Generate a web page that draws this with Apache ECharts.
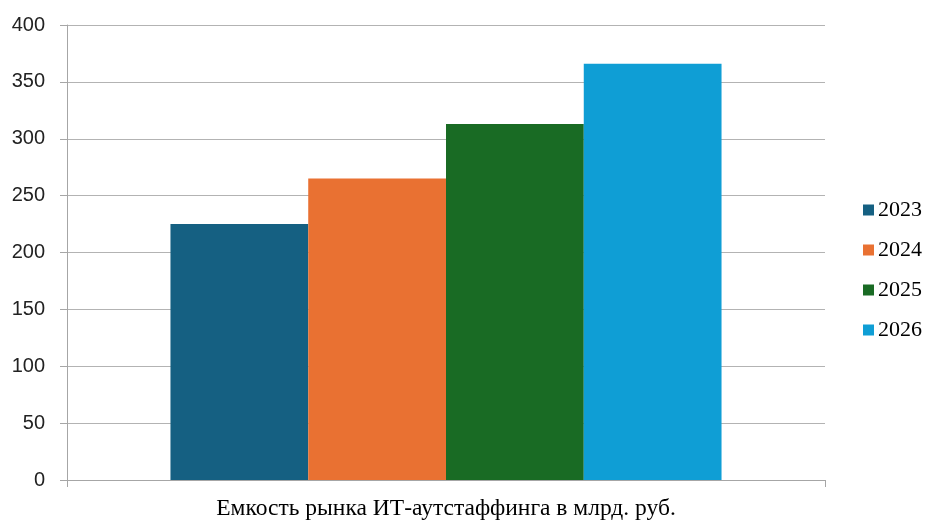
<!DOCTYPE html>
<html>
<head>
<meta charset="utf-8">
<script src="https://cdn.jsdelivr.net/npm/echarts@6/dist/echarts.min.js"></script>
<style>
  html, body { margin: 0; padding: 0; background: #fff; }
  #chart { width: 927px; height: 520px; }
</style>
</head>
<body>
<div id="chart"></div>
<script>
const categories = ["Емкость рынка ИТ-аутстаффинга в млрд. руб."];
const years = ["2023", "2024", "2025", "2026"];
const values = [225, 265, 313, 366];
const colors = ["#156082", "#E97132", "#196B24", "#0F9ED5"];

const myChart = echarts.init(document.getElementById("chart"));
const option = {
  animation: false,
  color: colors,
  grid: { left: 67, right: 102, top: 25, bottom: 40, outerBoundsMode: "none" },
  legend: {
    orient: "vertical",
    left: 858,
    top: 194,
    itemWidth: 11,
    itemHeight: 11,
    itemGap: 18,
    icon: "rect",
    textStyle: { fontFamily: "Liberation Serif", fontSize: 22, color: "#000", padding: [0, 0, 0, -1] },
    data: years,
  },
  xAxis: {
    type: "category",
    data: categories,
    axisLine: { lineStyle: { color: "#a6a6a6", width: 1 } },
    axisTick: { show: true, length: 7, lineStyle: { color: "#a6a6a6" } },
    axisLabel: {
      margin: 17,
      fontFamily: "Liberation Serif",
      fontSize: 23.5,
      color: "#000",
    },
  },
  yAxis: {
    type: "value",
    min: 0,
    max: 400,
    interval: 50,
    axisLine: { show: true, lineStyle: { color: "#a6a6a6", width: 1 } },
    axisTick: { show: true, length: 7, lineStyle: { color: "#a6a6a6" } },
    axisLabel: {
      margin: 22,
      fontFamily: "Liberation Sans",
      fontSize: 20,
      color: "#222",
    },
    splitLine: { lineStyle: { color: "#b3b3b3", width: 1 } },
  },
  series: years.map((y, i) => ({
    name: y,
    type: "bar",
    barGap: "0%",
    barCategoryGap: "27.3%",
    data: [values[i]],
  })),
};
myChart.setOption(option);
window.addEventListener("resize", function () {
  myChart.resize();
});
</script>
</body>
</html>
